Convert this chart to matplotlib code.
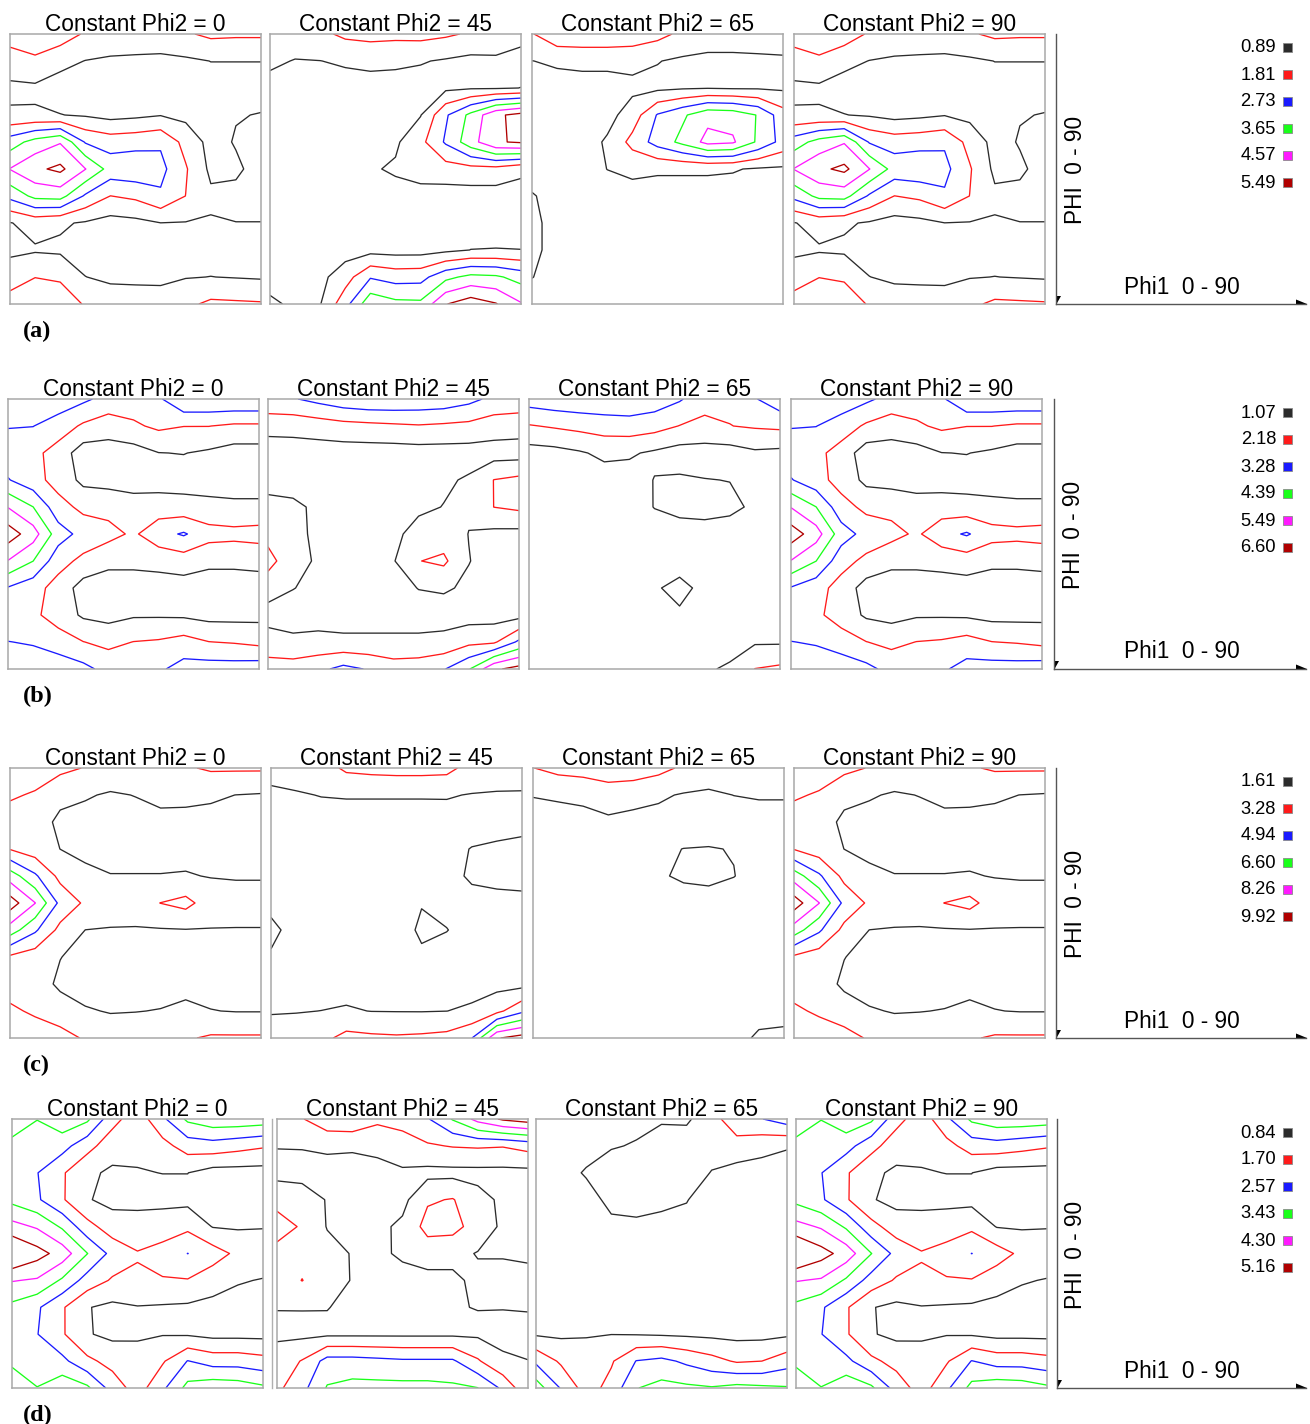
import numpy as np
import matplotlib
matplotlib.use('Agg')
import matplotlib.pyplot as plt
from matplotlib.patches import Rectangle, Polygon

W, H = 1310, 1424

## contour levels of each row, read from the legends
levels_a = [0.89, 1.81, 2.73, 3.65, 4.57, 5.49]
levels_b = [1.07, 2.18, 3.28, 4.39, 5.49, 6.60]
levels_c = [1.61, 3.28, 4.94, 6.60, 8.26, 9.92]
levels_d = [0.84, 1.70, 2.57, 3.43, 4.30, 5.16]
level_colors = ['#2b2b2b', '#ff1a1a', '#1a1aff', '#1aff1a', '#ff1aff', '#b00000']

phi2_sections = [0, 45, 65, 90]
row_labels = ['(a)', '(b)', '(c)', '(d)']

## ODF intensity read off the sections on a 9 degree grid
## rows: PHI 0..90 (top to bottom), columns: Phi1 0..90 (left to right)
a_phi2_0 = [
    [2.2, 2.2, 2.3, 1.7, 1.3, 1.35, 1.4, 1.7, 2.0, 1.95, 1.95],
    [1.4, 1.7, 1.15, 0.87, 0.8, 0.75, 0.7, 0.75, 0.9, 0.9, 0.9],
    [0.7, 0.72, 0.5, 0.6, 0.55, 0.55, 0.6, 0.6, 0.6, 0.6, 0.6],
    [1.0, 1.0, 0.91, 0.8, 0.6, 0.7, 0.85, 0.65, 0.55, 0.85, 0.92],
    [3.2, 4.0, 4.5, 2.65, 2.3, 2.4, 2.6, 1.5, 0.6, 0.95, 1.1],
    [4.6, 5.3, 5.7, 4.6, 3.3, 3.4, 3.0, 1.9, 0.7, 0.75, 1.2],
    [3.0, 3.9, 4.0, 2.6, 1.8, 2.0, 2.6, 1.8, 1.05, 1.1, 1.1],
    [0.85, 1.2, 1.0, 0.8, 0.55, 0.65, 0.88, 0.85, 0.82, 0.88, 0.88],
    [0.7, 0.8, 0.75, 0.6, 0.5, 0.5, 0.5, 0.55, 0.55, 0.55, 0.55],
    [1.4, 1.8, 1.65, 0.9, 0.75, 0.72, 0.7, 0.85, 0.9, 0.85, 0.8],
    [2.2, 2.2, 2.5, 1.7, 1.3, 1.3, 1.3, 1.6, 2.0, 1.95, 1.9],
]
a_phi2_45 = [
    [1.3, 1.4, 1.6, 2.0, 2.1, 2.05, 2.1, 1.95, 1.7, 1.6, 1.2],
    [1.05, 0.85, 0.88, 1.0, 1.1, 1.05, 0.95, 0.8, 0.65, 0.7, 0.55],
    [0.6, 0.55, 0.55, 0.55, 0.55, 0.55, 0.55, 0.7, 0.8, 0.8, 0.9],
    [0.5, 0.5, 0.5, 0.5, 0.5, 0.55, 0.85, 2.6, 3.9, 5.3, 5.8],
    [0.45, 0.45, 0.45, 0.45, 0.55, 0.75, 1.55, 2.85, 4.2, 5.4, 5.6],
    [0.45, 0.45, 0.45, 0.5, 0.8, 1.0, 1.3, 1.4, 1.5, 1.5, 1.1],
    [0.45, 0.45, 0.45, 0.45, 0.55, 0.6, 0.55, 0.5, 0.5, 0.5, 0.5],
    [0.5, 0.5, 0.5, 0.45, 0.5, 0.5, 0.5, 0.5, 0.5, 0.5, 0.5],
    [0.55, 0.55, 0.5, 0.5, 0.6, 0.55, 0.55, 0.7, 0.9, 0.92, 0.9],
    [0.7, 0.65, 0.65, 1.4, 2.65, 2.35, 2.4, 3.4, 3.9, 3.8, 3.3],
    [0.98, 0.8, 0.85, 2.4, 4.3, 3.9, 3.85, 5.45, 6.0, 5.55, 4.65],
]
a_phi2_65 = [
    [1.75, 2.5, 2.5, 2.5, 2.4, 2.1, 1.6, 1.3, 1.3, 1.35, 1.4],
    [0.88, 1.0, 1.1, 1.1, 1.1, 0.92, 0.75, 0.7, 0.7, 0.72, 0.75],
    [0.6, 0.6, 0.55, 0.55, 0.7, 0.7, 0.8, 0.85, 0.8, 0.8, 0.75],
    [0.55, 0.5, 0.5, 0.6, 1.3, 2.8, 3.5, 4.3, 4.2, 3.6, 2.2],
    [0.55, 0.5, 0.5, 1.0, 2.1, 3.1, 3.9, 4.85, 4.7, 3.5, 2.4],
    [0.7, 0.55, 0.55, 0.9, 1.1, 1.0, 1.0, 1.0, 0.95, 0.8, 0.75],
    [0.92, 0.75, 0.6, 0.55, 0.55, 0.55, 0.55, 0.55, 0.55, 0.55, 0.55],
    [0.95, 0.8, 0.6, 0.5, 0.5, 0.5, 0.5, 0.5, 0.5, 0.5, 0.5],
    [0.95, 0.8, 0.6, 0.5, 0.5, 0.5, 0.5, 0.5, 0.5, 0.5, 0.5],
    [0.9, 0.75, 0.6, 0.5, 0.5, 0.5, 0.5, 0.5, 0.5, 0.5, 0.5],
    [0.7, 0.65, 0.6, 0.5, 0.5, 0.5, 0.5, 0.5, 0.5, 0.5, 0.5],
]
a_phi2_90 = a_phi2_0  # same section as phi2 = 0

b_phi2_0 = [
    [3.8, 3.7, 3.9, 3.5, 2.9, 2.8, 3.1, 4.3, 4.3, 4.3, 4.3],
    [3.35, 3.3, 2.8, 2.0, 1.6, 2.0, 2.4, 2.2, 2.2, 2.0, 2.0],
    [2.6, 2.5, 1.7, 0.5, 0.55, 0.6, 1.05, 1.1, 0.9, 0.6, 0.6],
    [3.35, 2.6, 1.75, 0.8, 0.7, 0.65, 0.6, 0.6, 0.55, 0.55, 0.55],
    [5.45, 4.4, 2.6, 1.9, 1.8, 1.5, 1.6, 1.5, 1.4, 1.3, 1.3],
    [7.2, 6.0, 3.8, 2.9, 2.55, 2.0, 2.9, 3.4, 2.6, 2.5, 2.6],
    [5.45, 4.4, 2.6, 1.9, 1.3, 1.3, 1.4, 1.6, 1.3, 1.3, 1.4],
    [3.2, 2.6, 1.75, 0.6, 0.6, 0.6, 0.6, 0.6, 0.55, 0.55, 0.55],
    [2.6, 2.4, 1.7, 0.9, 0.7, 0.95, 0.95, 0.9, 0.7, 0.7, 0.75],
    [3.3, 3.2, 2.7, 2.2, 1.9, 2.2, 2.3, 2.6, 2.2, 2.1, 1.9],
    [3.8, 3.8, 4.0, 3.6, 2.9, 3.0, 3.1, 3.7, 3.8, 3.8, 3.9],
]
b_phi2_45 = [
    [3.1, 3.2, 3.6, 4.0, 4.2, 4.2, 4.1, 4.0, 3.6, 3.0, 2.9],
    [1.4, 1.45, 1.6, 1.8, 1.9, 2.0, 2.1, 2.0, 1.9, 1.6, 1.5],
    [0.55, 0.55, 0.55, 0.55, 0.55, 0.55, 0.6, 0.6, 0.6, 0.6, 0.6],
    [0.8, 0.8, 0.7, 0.6, 0.55, 0.55, 0.6, 0.9, 1.2, 2.2, 2.45],
    [1.3, 1.2, 0.95, 0.6, 0.6, 0.6, 0.85, 1.1, 1.2, 2.19, 2.4],
    [1.8, 1.3, 0.9, 0.6, 0.6, 0.8, 1.5, 1.6, 1.05, 0.8, 0.75],
    [2.6, 1.4, 0.95, 0.6, 0.6, 1.0, 2.15, 2.4, 1.1, 0.7, 0.7],
    [1.5, 1.1, 0.8, 0.6, 0.6, 0.7, 1.1, 1.2, 0.9, 0.65, 0.65],
    [0.7, 0.6, 0.6, 0.6, 0.6, 0.6, 0.6, 0.6, 0.6, 0.6, 0.7],
    [1.5, 1.3, 1.4, 1.3, 1.3, 1.3, 1.3, 1.4, 1.9, 2.0, 3.5],
    [2.7, 2.7, 3.0, 3.6, 3.2, 2.7, 2.8, 3.2, 4.3, 6.4, 7.0],
]
b_phi2_65 = [
    [3.8, 4.0, 4.1, 4.1, 4.1, 3.9, 3.4, 2.6, 2.4, 3.2, 4.0],
    [2.1, 2.3, 2.5, 2.7, 2.8, 2.6, 2.15, 1.9, 2.16, 2.3, 2.4],
    [0.6, 0.7, 0.95, 1.3, 1.2, 0.9, 0.6, 0.6, 0.6, 0.9, 0.8],
    [0.55, 0.55, 0.6, 0.6, 0.65, 1.1, 1.2, 1.1, 1.05, 0.85, 0.7],
    [0.5, 0.5, 0.5, 0.5, 0.6, 1.1, 1.25, 1.4, 1.3, 0.9, 0.7],
    [0.5, 0.5, 0.5, 0.5, 0.55, 0.6, 0.8, 0.7, 0.6, 0.6, 0.6],
    [0.5, 0.5, 0.5, 0.5, 0.6, 0.6, 0.8, 0.6, 0.6, 0.6, 0.6],
    [0.5, 0.5, 0.5, 0.5, 0.75, 1.0, 1.25, 0.9, 0.6, 0.6, 0.6],
    [0.5, 0.5, 0.5, 0.5, 0.7, 0.8, 0.98, 0.8, 0.6, 0.65, 0.65],
    [0.5, 0.5, 0.5, 0.5, 0.55, 0.55, 0.6, 0.6, 0.7, 0.95, 0.95],
    [0.55, 0.55, 0.55, 0.55, 0.55, 0.55, 0.55, 0.95, 1.2, 2.2, 2.4],
]
b_phi2_90 = b_phi2_0

c_phi2_0 = [
    [4.0, 4.2, 3.7, 3.2, 2.7, 2.6, 2.8, 3.1, 3.5, 3.5, 3.5],
    [3.5, 3.1, 2.0, 1.75, 1.45, 1.65, 1.9, 1.95, 1.8, 1.6, 1.5],
    [2.5, 2.3, 1.3, 1.1, 1.1, 1.1, 1.3, 1.2, 1.2, 1.15, 1.15],
    [3.2, 2.4, 1.6, 1.3, 1.2, 1.2, 1.2, 1.2, 1.2, 1.2, 1.2],
    [7.5, 5.2, 2.8, 1.9, 1.65, 1.65, 1.65, 1.7, 1.55, 1.5, 1.5],
    [10.8, 8.3, 4.5, 3.0, 2.6, 2.7, 3.3, 3.8, 2.4, 2.2, 2.2],
    [7.5, 5.2, 2.8, 1.6, 1.5, 1.45, 1.5, 1.55, 1.55, 1.55, 1.55],
    [3.0, 2.4, 1.65, 1.1, 1.1, 1.1, 1.1, 1.1, 1.1, 1.1, 1.1],
    [2.5, 2.4, 1.3, 1.2, 1.1, 1.2, 1.2, 1.2, 1.1, 1.1, 1.1],
    [3.6, 3.0, 2.4, 1.7, 1.55, 1.58, 1.65, 1.9, 1.65, 1.55, 1.55],
    [4.0, 4.3, 3.9, 3.1, 2.2, 2.3, 2.6, 3.1, 3.5, 3.5, 3.5],
]
c_phi2_45 = [
    [2.0, 2.2, 2.5, 3.6, 3.8, 3.9, 3.9, 3.8, 2.6, 2.3, 2.2],
    [1.4, 1.5, 1.65, 1.7, 1.7, 1.7, 1.7, 1.7, 1.55, 1.5, 1.5],
    [1.1, 1.1, 1.1, 1.1, 1.1, 1.1, 1.1, 1.15, 1.15, 1.15, 1.15],
    [1.1, 1.1, 1.1, 1.05, 1.0, 1.0, 1.0, 1.3, 1.65, 1.8, 2.0],
    [1.2, 1.15, 1.1, 1.0, 1.0, 1.0, 1.0, 1.3, 1.75, 1.9, 2.0],
    [1.45, 1.3, 1.1, 1.0, 1.0, 1.2, 1.58, 1.3, 1.3, 1.3, 1.3],
    [1.75, 1.4, 1.15, 1.05, 1.0, 1.3, 1.72, 1.64, 1.2, 1.2, 1.2],
    [1.55, 1.3, 1.1, 1.05, 1.0, 1.1, 1.5, 1.2, 1.1, 1.1, 1.1],
    [1.2, 1.15, 1.1, 1.1, 1.05, 1.05, 1.05, 1.1, 1.1, 1.1, 1.1],
    [1.55, 1.55, 1.62, 1.75, 1.58, 1.56, 1.55, 1.6, 1.83, 2.8, 4.6],
    [2.0, 2.3, 2.8, 3.8, 3.6, 3.5, 3.6, 3.8, 4.9, 9.8, 10.6],
]
c_phi2_65 = [
    [3.25, 3.8, 4.0, 4.5, 4.3, 3.8, 3.0, 2.2, 2.0, 2.1, 2.1],
    [1.65, 1.75, 1.9, 2.2, 2.1, 1.8, 1.5, 1.45, 1.62, 1.7, 1.7],
    [1.2, 1.2, 1.2, 1.4, 1.2, 1.2, 1.2, 1.2, 1.2, 1.2, 1.2],
    [1.15, 1.15, 1.15, 1.2, 1.2, 1.5, 1.62, 1.65, 1.58, 1.3, 1.25],
    [1.15, 1.15, 1.15, 1.15, 1.15, 1.5, 1.75, 1.85, 1.63, 1.3, 1.25],
    [1.15, 1.15, 1.15, 1.15, 1.15, 1.2, 1.2, 1.2, 1.2, 1.2, 1.2],
    [1.15, 1.15, 1.15, 1.15, 1.15, 1.15, 1.15, 1.15, 1.15, 1.15, 1.15],
    [1.15, 1.15, 1.15, 1.15, 1.15, 1.15, 1.15, 1.15, 1.15, 1.15, 1.15],
    [1.15, 1.15, 1.15, 1.15, 1.15, 1.15, 1.15, 1.15, 1.15, 1.2, 1.2],
    [1.15, 1.15, 1.15, 1.15, 1.15, 1.15, 1.15, 1.15, 1.2, 1.3, 1.35],
    [1.2, 1.2, 1.2, 1.2, 1.2, 1.2, 1.2, 1.2, 1.3, 1.75, 1.8],
]
c_phi2_90 = c_phi2_0

d_phi2_0 = [
    [3.7, 3.45, 4.0, 3.6, 2.0, 1.2, 2.4, 3.6, 4.0, 4.0, 3.9],
    [3.3, 3.0, 2.9, 2.0, 1.2, 1.0, 1.4, 2.1, 2.2, 2.0, 1.8],
    [3.0, 2.6, 1.8, 1.0, 0.7, 0.8, 0.85, 0.85, 0.5, 0.5, 0.5],
    [3.2, 2.7, 1.8, 0.9, 0.6, 0.6, 0.6, 0.6, 0.55, 0.55, 0.55],
    [4.6, 4.2, 3.3, 2.0, 1.25, 1.2, 1.3, 1.5, 0.8, 0.75, 0.8],
    [6.2, 5.5, 4.8, 3.45, 2.3, 1.75, 2.0, 2.58, 2.1, 1.5, 1.3],
    [4.35, 4.2, 3.3, 2.2, 1.6, 1.6, 1.65, 1.65, 1.2, 0.9, 0.8],
    [3.2, 2.7, 1.8, 0.88, 0.65, 0.8, 0.75, 0.7, 0.6, 0.55, 0.55],
    [3.0, 2.6, 1.8, 0.9, 0.65, 0.75, 0.8, 0.75, 0.6, 0.6, 0.6],
    [3.35, 3.0, 2.8, 1.9, 1.4, 1.1, 1.6, 2.6, 2.2, 2.2, 2.0],
    [3.7, 3.45, 4.0, 3.6, 2.2, 1.3, 2.4, 3.7, 4.0, 3.9, 3.6],
]
d_phi2_45 = [
    [1.5, 1.65, 2.3, 2.4, 1.9, 2.1, 2.5, 3.5, 4.6, 5.3, 5.6],
    [0.87, 0.88, 0.95, 0.92, 0.95, 1.2, 1.6, 1.75, 1.8, 1.75, 2.0],
    [0.6, 0.6, 0.6, 0.6, 0.7, 0.75, 0.6, 0.6, 0.6, 0.6, 0.6],
    [1.4, 1.2, 0.8, 0.6, 0.6, 0.6, 1.6, 1.75, 1.1, 0.7, 0.65],
    [2.1, 1.6, 0.8, 0.7, 0.65, 1.0, 2.0, 2.0, 1.3, 0.7, 0.65],
    [1.4, 1.4, 1.1, 0.8, 0.7, 0.95, 1.2, 1.05, 0.8, 0.8, 0.75],
    [1.2, 1.72, 1.2, 0.8, 0.65, 0.6, 0.6, 0.7, 1.0, 1.0, 1.0],
    [0.86, 0.87, 0.86, 0.7, 0.65, 0.65, 0.65, 0.8, 0.86, 0.86, 0.88],
    [0.7, 0.65, 0.7, 0.7, 0.7, 0.7, 0.7, 0.7, 0.7, 0.65, 0.65],
    [1.2, 1.75, 2.9, 2.9, 2.8, 2.7, 2.7, 2.7, 1.8, 0.95, 0.85],
    [1.5, 2.3, 3.5, 3.7, 3.7, 3.7, 3.7, 3.6, 3.45, 2.4, 1.0],
]
d_phi2_65 = [
    [0.7, 0.65, 0.65, 0.65, 0.7, 0.75, 0.7, 1.4, 2.2, 2.55, 3.0],
    [0.6, 0.6, 0.6, 0.8, 0.88, 1.2, 1.3, 1.2, 1.4, 1.1, 0.9],
    [0.6, 0.6, 0.9, 1.1, 1.2, 1.3, 1.3, 0.8, 0.5, 0.5, 0.5],
    [0.6, 0.6, 0.6, 1.0, 1.1, 0.95, 0.86, 0.6, 0.5, 0.5, 0.5],
    [0.6, 0.6, 0.6, 0.7, 0.7, 0.7, 0.7, 0.6, 0.55, 0.55, 0.55],
    [0.6, 0.6, 0.6, 0.6, 0.6, 0.6, 0.6, 0.6, 0.6, 0.6, 0.6],
    [0.6, 0.6, 0.6, 0.6, 0.6, 0.6, 0.6, 0.6, 0.6, 0.6, 0.6],
    [0.6, 0.6, 0.6, 0.6, 0.6, 0.6, 0.6, 0.6, 0.6, 0.6, 0.6],
    [0.75, 0.7, 0.8, 0.83, 0.8, 0.75, 0.7, 0.65, 0.6, 0.6, 0.7],
    [2.4, 1.55, 1.1, 1.6, 2.6, 2.8, 2.4, 2.0, 1.6, 1.7, 2.2],
    [3.9, 2.5, 1.3, 2.0, 3.4, 3.7, 3.6, 3.5, 3.7, 3.6, 3.5],
]
d_phi2_90 = d_phi2_0

rows = [
    (levels_a, [a_phi2_0, a_phi2_45, a_phi2_65, a_phi2_90]),
    (levels_b, [b_phi2_0, b_phi2_45, b_phi2_65, b_phi2_90]),
    (levels_c, [c_phi2_0, c_phi2_45, c_phi2_65, c_phi2_90]),
    (levels_d, [d_phi2_0, d_phi2_45, d_phi2_65, d_phi2_90]),
]

## page layout in pixels
panel_w = 251
tops = [34, 399, 768, 1119]
heights = [270, 270, 270, 269]
lefts = [[10, 270, 532, 794], [8, 268, 529, 791], [10, 271, 533, 794], [12, 277, 536, 796]]
axis_x = [1056, 1054, 1056, 1057]

sans = 'Liberation Sans'
grid = np.linspace(0, 90, 11)

fig = plt.figure(figsize=(W / 100, H / 100), dpi=100)
fig.patch.set_facecolor('white')

for r, (levels, sections) in enumerate(rows):
    top, h = tops[r], heights[r]
    bottom = top + h
    for k, z in enumerate(sections):
        left = lefts[r][k]
        ax = fig.add_axes([left / W, 1 - bottom / H, panel_w / W, h / H])
        ax.contour(grid, grid, np.array(z), levels=levels, colors=level_colors,
                   linewidths=0.95)
        ax.set_xlim(0, 90)
        ax.set_ylim(90, 0)
        ax.set_xticks([])
        ax.set_yticks([])
        for sp in ax.spines.values():
            sp.set_color('#a8a8a8')
            sp.set_linewidth(1.1)

## overlay for titles, legends and the axis sketch
ov = fig.add_axes([0, 0, 1, 1])
ov.set_xlim(0, W)
ov.set_ylim(H, 0)
ov.axis('off')

for r, (levels, sections) in enumerate(rows):
    top, h = tops[r], heights[r]
    bottom = top + h
    for k, phi2 in enumerate(phi2_sections):
        cx = lefts[r][k] + panel_w / 2
        ov.text(cx, top - 3, 'Constant Phi2 = %d' % phi2, ha='center', va='baseline',
                fontsize=16.3, family=sans)

    ## orientation sketch
    x0 = axis_x[r]
    ov.plot([x0, x0], [top, bottom], color='#555555', lw=1.0)
    ov.plot([x0, 1306], [bottom, bottom], color='#555555', lw=1.0)
    ov.add_patch(Polygon([(x0, bottom - 8), (x0 + 5, bottom - 8), (x0 + 0.5, bottom)],
                         closed=True, color='black', lw=0))
    ov.add_patch(Polygon([(1296, bottom - 4.5), (1307, bottom), (1296, bottom + 0.5)],
                         closed=True, color='black', lw=0))
    ov.text(x0 + 19, top + 136, 'PHI  0 - 90', rotation=90, ha='center', va='center',
            fontsize=16.3, family=sans)
    ov.text(1182, bottom - 17, 'Phi1  0 - 90', ha='center', va='center',
            fontsize=16.3, family=sans)

    ## level legend
    for i, (lv, col) in enumerate(zip(levels, level_colors)):
        y = top + 14 + 27 * i
        ov.text(1276, y, '%.2f' % lv, ha='right', va='center', fontsize=13.2, family=sans)
        ov.add_patch(Rectangle((1283, y - 5), 9, 9, facecolor=col, edgecolor='#8a8a8a', lw=0.6))

    ov.text(23, bottom + 27, row_labels[r], ha='left', va='center', fontsize=17.5,
            family='Liberation Serif', weight='bold')

## thin separator seen in the last row
ov.plot([272, 272], [tops[3], tops[3] + heights[3]], color='#b0b0b0', lw=1.0)

fig.savefig('out.png', dpi=100, facecolor='white')
